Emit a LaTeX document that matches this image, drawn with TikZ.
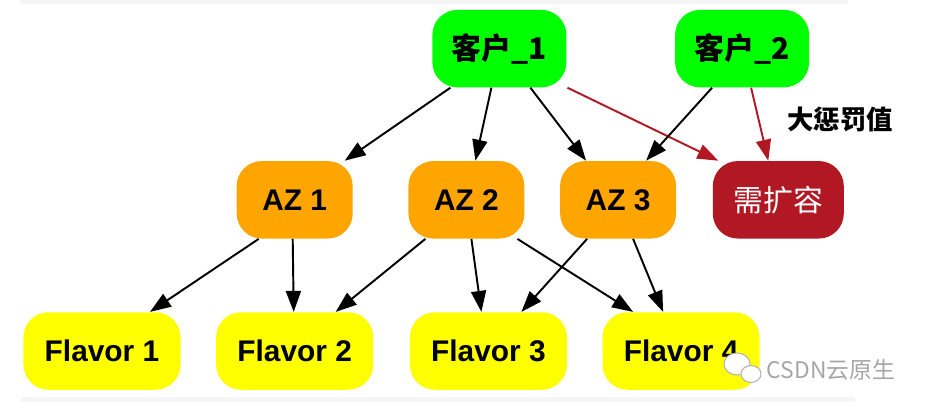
\documentclass[tikz,border=0pt]{standalone}
\usepackage{fontspec}
\setmainfont{Liberation Sans}
\newfontfamily\cjk{Noto Sans CJK SC}
\usepackage{tikz}
\usetikzlibrary{arrows.meta,positioning}
\definecolor{custgreen}{RGB}{0,255,0}
\definecolor{azorange}{RGB}{255,165,0}
\definecolor{needred}{RGB}{178,24,36}
\definecolor{flavyellow}{RGB}{255,255,0}
\definecolor{bandgray}{RGB}{245,245,245}
\newcommand{\bigfont}{\fontsize{17}{20}\selectfont}

\begin{document}
\begin{tikzpicture}[node distance=1.46cm, box/.style={rounded corners=0.5cm, minimum height=1.55cm, inner sep=2pt, align=center, font=\bigfont\bfseries}, cust/.style={box, fill=custgreen, minimum width=2.68cm, font=\cjk\bigfont\bfseries}, az/.style={box, fill=azorange, minimum width=2.32cm}, need/.style={box, fill=needred, text=white, minimum width=2.62cm, font=\cjk\bigfont}, flav/.style={box, fill=flavyellow, minimum width=3.14cm}, arrow/.style={-{Triangle[length=0.42cm,width=0.3cm]}, line width=1.1pt, black}, redarrow/.style={arrow, needred}]
\useasboundingbox (0,0) rectangle (18.52,-8.2);
\fill[bandgray] (0.4,0) rectangle (16.96,-0.09);
\fill[bandgray] (0.42,-7.94) rectangle (17.1,-8.04);
\node[flav] (f1) at (2.04,-7.02) {Flavor 1};
\node[flav, right=0.7cm of f1] (f2) {Flavor 2};
\node[flav, right=0.72cm of f2] (f3) {Flavor 3};
\node[flav, right=0.7cm of f3] (f4) {Flavor 4};
\node[az, above=of f2] (az1) {AZ 1};
\node[az, right=1.1cm of az1] (az2) {AZ 2};
\node[az, right=0.7cm of az2] (az3) {AZ 3};
\node[need, right=0.72cm of az3] (need) {需扩容};
\node[cust, above=of az2, xshift=0.66cm] (c1) {客户\_1};
\node[cust, right=2.16cm of c1] (c2) {客户\_2};
\node[font=\cjk\fontsize{15}{18}\selectfont\bfseries] (penalty) at (16.8,-2.38) {大惩罚值};
% watermark
\draw[gray!60, fill=white, line width=0.6pt] (14.74,-7.28) ellipse (0.26 and 0.22);
\draw[gray!60, fill=white, line width=0.6pt] (15.02,-7.48) ellipse (0.2 and 0.17);
\node[text=gray!70, font=\cjk\fontsize{13}{15}\selectfont] (wm) at (16.62,-7.4) {CSDN云原生};
\draw[arrow]([xshift=-0.98cm]c1.south)--([xshift=1cm]az1.north); \draw[arrow]([xshift=-0.16cm]c1.south)--([xshift=0.18cm]az2.north); \draw[arrow]([xshift=0.62cm]c1.south)--([xshift=-0.64cm]az3.north); \draw[redarrow]([xshift=1.36cm]c1.south)--([xshift=-1.2cm]need.north);
\draw[arrow]([xshift=-0.6cm]c2.south)--([xshift=0.56cm]az3.north); \draw[redarrow]([xshift=0.18cm]c2.south)--([xshift=-0.2cm]need.north);
\draw[arrow]([xshift=-0.72cm]az1.south)--([xshift=0.96cm]f1.north); \draw[arrow]([xshift=-0.04cm]az1.south)--([xshift=-0.02cm]f2.north);
\draw[arrow]([xshift=-0.82cm]az2.south)--([xshift=0.82cm]f2.north); \draw[arrow]([xshift=0.1cm]az2.south)--([xshift=-0.14cm]f3.north); \draw[arrow]([xshift=1.02cm]az2.south)--([xshift=-0.96cm]f4.north);
\draw[arrow]([xshift=-0.62cm]az3.south)--([xshift=0.66cm]f3.north); \draw[arrow]([xshift=0.3cm]az3.south)--([xshift=-0.36cm]f4.north);
\end{tikzpicture}
\end{document}
